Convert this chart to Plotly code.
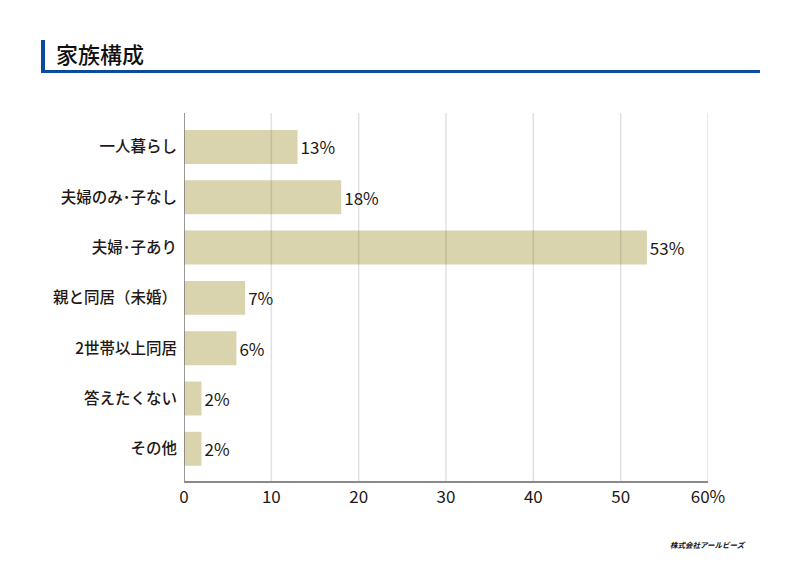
import plotly.graph_objects as go

categories = ["一人暮らし", "夫婦のみ･子なし", "夫婦･子あり", "親と同居（未婚）", "2世帯以上同居", "答えたくない", "その他"]
values = [13, 18, 53, 7, 6, 2, 2]
x_ticks = [0, 10, 20, 30, 40, 50, 60]
x_ticklabels = ["0", "10", "20", "30", "40", "50", "60%"]

FONT = "Noto Sans CJK JP"
TXT = "#231815"

fig = go.Figure()
fig.add_trace(go.Bar(
    x=values, y=categories, orientation="h",
    marker=dict(color="#d9d3ae", line=dict(width=0)),
    width=0.675,
    text=[f"{v}%" for v in values], textposition="outside",
    textfont=dict(family=FONT, size=17, color=TXT),
    cliponaxis=False,
))

W, H = 524, 368
shapes = []
for t in x_ticks[1:]:
    shapes.append(dict(type="line", xref="x", yref="paper", x0=t, x1=t, y0=0, y1=1,
                       line=dict(color="rgba(90,90,90,0.18)", width=1.5), layer="above"))
# left axis line
shapes.append(dict(type="line", xref="x", yref="paper", x0=0, x1=0, y0=0, y1=1,
                   line=dict(color="#777777", width=1.5), layer="above"))
# header decoration
shapes.append(dict(type="rect", xref="paper", yref="paper", x0=(41-184)/W, x1=(45-184)/W,
                   y0=(481-73)/H, y1=(481-40)/H, fillcolor="#0b4a9c", line=dict(width=0)))
shapes.append(dict(type="rect", xref="paper", yref="paper", x0=(41-184)/W, x1=(760-184)/W,
                   y0=(481-73)/H, y1=(481-70)/H, fillcolor="#0b4a9c", line=dict(width=0)))

fig.update_layout(
    width=800, height=566,
    margin=dict(l=184, r=92, t=113, b=85),
    paper_bgcolor="white", plot_bgcolor="white",
    showlegend=False,
    shapes=shapes,
    font=dict(family=FONT, size=15, color=TXT),
    xaxis=dict(range=[0, 60], tickvals=x_ticks, ticktext=x_ticklabels, showgrid=False,
               zeroline=False, showline=True, linecolor="#8a8a8a", linewidth=1.5,
               ticks="", tickfont=dict(family=FONT, size=17, color=TXT)),
    yaxis=dict(type="category", categoryorder="array", categoryarray=categories,
               range=[6.64, -0.675], showgrid=False, zeroline=False, showline=False,
               ticks="", ticklabelstandoff=6,
               tickfont=dict(family=FONT, size=15.5, color=TXT, weight=500)),
    annotations=[
        dict(text="家族構成", xref="paper", yref="paper", x=(54-184)/W, y=(481-53)/H,
             xanchor="left", yanchor="middle", showarrow=False,
             font=dict(family=FONT, size=22, color="#111111", weight=500)),
        dict(text="株式会社アールビーズ", xref="paper", yref="paper", x=(748-184)/W, y=(481-544)/H,
             xanchor="right", yanchor="middle", showarrow=False,
             font=dict(family=FONT, size=7.5, color="#111111", weight="bold", style="italic")),
    ],
)

fig.write_html("out.html")
